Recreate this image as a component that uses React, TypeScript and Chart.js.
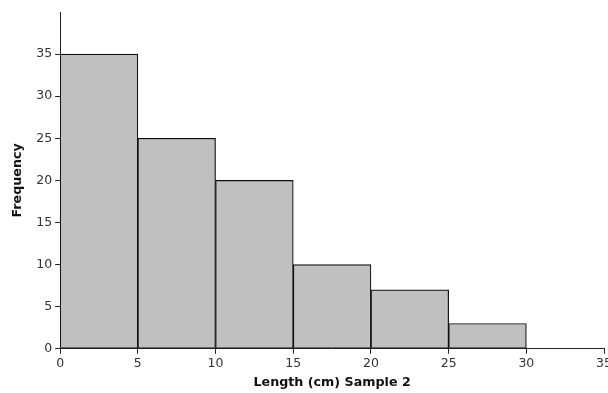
import React, { useEffect, useRef } from "react";
import { Chart, registerables } from "chart.js";

Chart.register(...registerables);

const binStarts = [0, 5, 10, 15, 20, 25];
const binWidth = 5;
const frequencies = [35, 25, 20, 10, 7, 3];
const xTicks = [0, 5, 10, 15, 20, 25, 30, 35];
const yTicks = [0, 5, 10, 15, 20, 25, 30, 35];
const xTitle = "Length (cm) Sample 2";
const yTitle = "Frequency";

export default function App() {
  const ref = useRef<HTMLCanvasElement | null>(null);
  useEffect(() => {
    if (!ref.current) return;
    const font = "'DejaVu Sans', Verdana, sans-serif";
    const chart = new Chart(ref.current, {
      type: "bar",
      data: {
        datasets: [
          {
            data: binStarts.map((s, i) => ({ x: s + binWidth / 2, y: frequencies[i] })),
            backgroundColor: "#c0c0c0",
            borderColor: "#111",
            borderWidth: 1.2,
            borderSkipped: false,
            barPercentage: 1,
            categoryPercentage: 1,
          },
        ],
      },
      options: {
        animation: false,
        responsive: false,
        maintainAspectRatio: false,
        layout: { padding: { top: 12, bottom: 3, left: 10, right: 0 } },
        plugins: { legend: { display: false }, tooltip: { enabled: false } },
        scales: {
          x: {
            type: "linear",
            min: 0,
            max: 35,
            offset: false,
            afterBuildTicks: (s: any) => {
              s.ticks = xTicks.map((v) => ({ value: v }));
            },
            grid: { display: true, offset: false, drawOnChartArea: false, drawTicks: true, tickLength: 5, color: "#222" },
            border: { display: true, color: "#222", width: 1 },
            ticks: { color: "#333", font: { family: font, size: 12.5 }, padding: 2, maxRotation: 0 },
            title: { display: true, text: xTitle, color: "#111", font: { family: font, size: 12.7, weight: "bold" }, padding: { top: 2, bottom: 0 } },
          },
          y: {
            min: 0,
            max: 40,
            afterBuildTicks: (s: any) => {
              s.ticks = yTicks.map((v) => ({ value: v }));
            },
            grid: { display: true, drawOnChartArea: false, drawTicks: true, tickLength: 5, color: "#222" },
            border: { display: true, color: "#222", width: 1 },
            ticks: { color: "#333", font: { family: font, size: 12.5 }, padding: 3 },
            title: { display: true, text: yTitle, color: "#111", font: { family: font, size: 12.7, weight: "bold" }, padding: { top: 0, bottom: 8 } },
          },
        },
      },
    });
    return () => chart.destroy();
  }, []);
  return (
    <div style={{ position: "fixed", left: 0, top: 0, width: 608, height: 393, overflow: "hidden", background: "#fff" }}>
      <canvas ref={ref} width={614} height={393} style={{ display: "block", width: 614, height: 393 }} />
    </div>
  );
}
